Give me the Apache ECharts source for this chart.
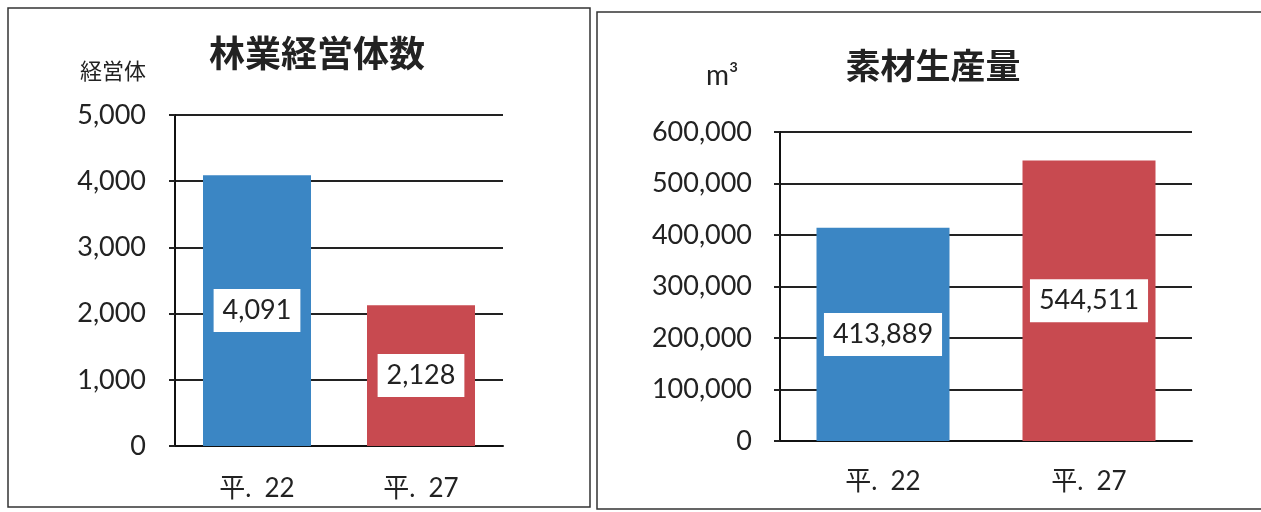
<!DOCTYPE html>
<html><head><meta charset="utf-8">
<script src="https://cdn.jsdelivr.net/npm/echarts@6/dist/echarts.min.js"></script>
<style>html,body{margin:0;padding:0;background:#fff}#c{width:1261px;height:512px}</style>
</head><body><div id="c"></div>
<script>
const categories = ['平.\u200222', '平.\u200227'];
const entities = [4091, 2128];
const timber = [413889, 544511];
const entityTicks = [0, 1000, 2000, 3000, 4000, 5000];
const timberTicks = [0, 100000, 200000, 300000, 400000, 500000, 600000];
const barColors = ['#3b86c4', '#c84a50'];

const fmt = v => v.toLocaleString('en-US');
const numFont = 'Lato, "Open Sans", sans-serif';
const cjk = '"Noto Sans CJK JP", sans-serif';

function yAxis(gridIndex, ticks, margin) {
  return {
    type: 'value', gridIndex, min: ticks[0], max: ticks[ticks.length - 1],
    interval: ticks[1] - ticks[0],
    axisLine: { show: true, lineStyle: { color: '#111', width: 2 } },
    axisTick: { show: true, length: 6, lineStyle: { color: '#222', width: 2 } },
    splitLine: { lineStyle: { color: '#222', width: 2 } },
    axisLabel: { formatter: v => fmt(v), fontSize: 27, color: '#222', fontFamily: numFont, margin }
  };
}
function xAxis(gridIndex, margin) {
  return {
    type: 'category', gridIndex, data: categories,
    axisLine: { show: true, lineStyle: { color: '#111', width: 2 } },
    axisTick: { show: false },
    axisLabel: { fontSize: 26, color: '#222', fontFamily: 'Lato, "Noto Sans CJK JP", sans-serif', margin }
  };
}
function barData(vals) {
  return vals.map((v, i) => ({ value: v, itemStyle: { color: barColors[i] } }));
}
const label = {
  show: true, position: 'inside', formatter: p => fmt(p.value),
  backgroundColor: '#fff', color: '#222', fontSize: 27, fontFamily: numFont,
  padding: [9, 9, 7, 9]
};

const chart = echarts.init(document.getElementById('c'), null, { renderer: 'canvas' });
chart.setOption({
  animation: false,
  backgroundColor: '#fff',
  title: [
    { text: '林業経営体数', left: 312, top: 30, textAlign: 'center',
      textStyle: { fontSize: 36, fontWeight: 'bold', color: '#222', fontFamily: cjk } },
    { text: '素材生産量', left: 928, top: 43, textAlign: 'center',
      textStyle: { fontSize: 35, fontWeight: 'bold', color: '#222', fontFamily: cjk, letterSpacing: 6 } }
  ],
  graphic: [
    { type: 'rect', shape: { x: 8, y: 8, width: 582, height: 499 }, style: { fill: 'none', stroke: '#333', lineWidth: 1.5 } },
    { type: 'rect', shape: { x: 597, y: 12, width: 670, height: 497 }, style: { fill: 'none', stroke: '#333', lineWidth: 1.5 } },
    { type: 'text', left: 80, top: 60, style: { text: '経営体', fontSize: 22, fill: '#222', fontFamily: cjk } },
    { type: 'text', left: 706, top: 62, style: { text: 'm³', fontSize: 28, fill: '#222', fontFamily: numFont } }
  ],
  grid: [
    { left: 175, right: 758, top: 115, bottom: 66 },
    { left: 780, right: 69, top: 132, bottom: 71 }
  ],
  xAxis: [xAxis(0, 30), xAxis(1, 28)],
  yAxis: [yAxis(0, entityTicks, 29), yAxis(1, timberTicks, 28)],
  series: [
    { type: 'bar', xAxisIndex: 0, yAxisIndex: 0, barWidth: 108, data: barData(entities), label },
    { type: 'bar', xAxisIndex: 1, yAxisIndex: 1, barWidth: 133, data: barData(timber), label }
  ]
});
</script></body></html>
